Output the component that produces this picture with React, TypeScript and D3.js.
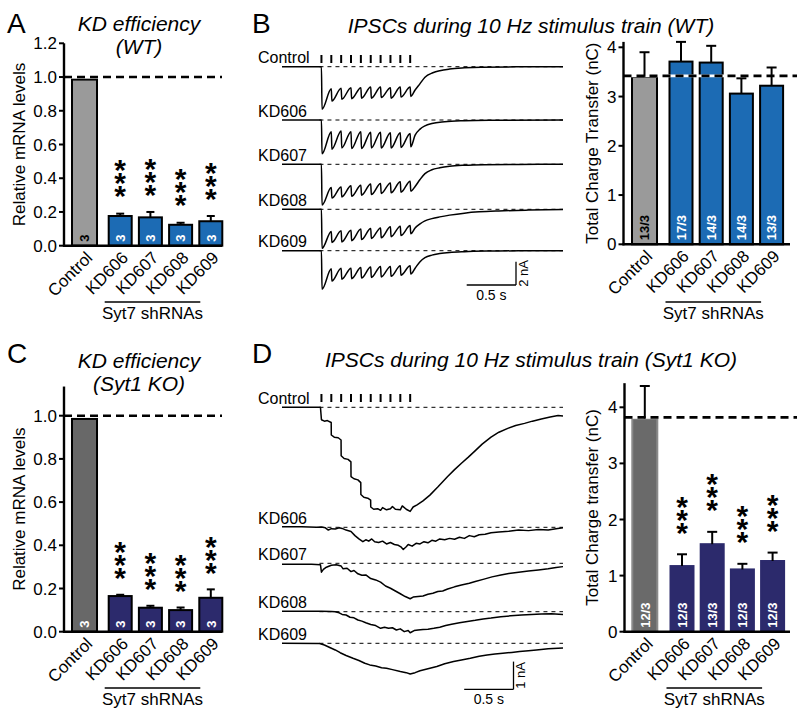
import React from 'react';
import * as d3 from 'd3';

// ---------- DATA ----------
const categories = ['Control', 'KD606', 'KD607', 'KD608', 'KD609'];
const groupLabel = 'Syt7 shRNAs';

const mrnaTicksWT = [0, 0.2, 0.4, 0.6, 0.8, 1.0, 1.2];
const mrnaTicksKO = [0, 0.2, 0.4, 0.6, 0.8, 1.0];
const chargeTicks = [0, 1, 2, 3, 4];

// A: KD efficiency (WT)
const mrnaWT = [0.985, 0.176, 0.168, 0.124, 0.145];
const mrnaWTErr = [0, 0.014, 0.032, 0.012, 0.031];
const mrnaWTn = ['3', '3', '3', '3', '3'];
const mrnaWTSig = ['', '***', '***', '***', '***'];

// B: total charge (WT)
const chargeWT = [3.4, 3.71, 3.69, 3.06, 3.22];
const chargeWTErr = [0.5, 0.4, 0.34, 0.31, 0.37];
const chargeWTn = ['13/3', '17/3', '14/3', '14/3', '13/3'];
const chargeWTSig = ['', '', '', '', ''];

// C: KD efficiency (Syt1 KO)
const mrnaKO = [0.985, 0.165, 0.111, 0.1, 0.157];
const mrnaKOErr = [0, 0.006, 0.009, 0.012, 0.039];
const mrnaKOn = ['3', '3', '3', '3', '3'];
const mrnaKOSig = ['', '***', '***', '***', '***'];

// D: total charge (Syt1 KO)
const chargeKO = [3.8, 1.17, 1.56, 1.11, 1.26];
const chargeKOErr = [0.58, 0.21, 0.22, 0.1, 0.15];
const chargeKOn = ['12/3', '12/3', '13/3', '12/3', '12/3'];
const chargeKOSig = ['', '***', '***', '***', '***'];

// reference (control mean) lines
const refMrna = 1.0;
const refChargeWT = 3.42;
const refChargeKO = 3.82;

// stimulus times (s)
const stimTimes = [0, 0.1, 0.2, 0.3, 0.4, 0.5, 0.6, 0.7, 0.8, 0.9];

// B traces (nA): peak after each stimulus, level just before next stimulus, tail after train
const wtControlPeaks = [-3.65, -2.95, -2.8, -2.75, -2.7, -2.7, -2.65, -2.7, -2.6, -2.55];
const wtControlRecov = [-1.9, -1.85, -1.8, -1.8, -1.75, -1.75, -1.8, -1.75, -1.75];
const wtControlTail = [[0.95, -2.0], [1.0, -1.45], [1.05, -0.9], [1.13, -0.52], [1.2, -0.34], [1.3, -0.2], [1.45, -0.1], [1.62, -0.04], [2.0, -0.01], [2.45, 0]];

const wtKD606Peaks = [-2.9, -2.5, -2.4, -2.45, -2.45, -2.4, -2.4, -2.4, -2.35, -2.3];
const wtKD606Recov = [-1.0, -0.95, -1.0, -1.0, -1.05, -1.05, -1.1, -1.1, -1.15];
const wtKD606Tail = [[0.95, -1.3], [1.0, -0.78], [1.05, -0.5], [1.12, -0.3], [1.25, -0.15], [1.45, -0.06], [1.7, -0.02], [2.45, 0]];

const wtKD607Peaks = [-3.5, -2.9, -2.8, -2.75, -2.65, -2.6, -2.5, -2.45, -2.4, -2.3];
const wtKD607Recov = [-2.0, -1.95, -1.85, -1.8, -1.7, -1.65, -1.6, -1.5, -1.45];
const wtKD607Tail = [[0.95, -1.9], [1.0, -1.3], [1.05, -0.8], [1.12, -0.47], [1.2, -0.3], [1.3, -0.17], [1.45, -0.08], [1.65, -0.03], [2.0, -0.01], [2.45, 0]];

const wtKD608Peaks = [-3.35, -2.85, -2.8, -2.7, -2.6, -2.5, -2.45, -2.35, -2.25, -2.1];
const wtKD608Recov = [-1.9, -1.85, -1.8, -1.7, -1.65, -1.6, -1.5, -1.45, -1.4];
const wtKD608Tail = [[0.95, -1.6], [1.0, -1.25], [1.05, -1.0], [1.12, -0.8], [1.2, -0.65], [1.3, -0.5], [1.45, -0.33], [1.6, -0.22], [1.8, -0.14], [2.1, -0.07], [2.45, -0.02]];

const wtKD609Peaks = [-3.3, -2.6, -2.45, -2.4, -2.35, -2.3, -2.25, -2.2, -2.1, -2.0];
const wtKD609Recov = [-1.55, -1.5, -1.5, -1.45, -1.4, -1.35, -1.35, -1.3, -1.3];
const wtKD609Tail = [[0.95, -1.5], [1.0, -0.95], [1.05, -0.6], [1.12, -0.38], [1.2, -0.25], [1.3, -0.15], [1.45, -0.08], [1.7, -0.03], [2.0, -0.01], [2.45, 0]];

// D traces (nA), [time s, current nA]
const koControl = [[-0.4, 0], [-0.01, 0], [0.0, -0.45], [0.03, -0.5], [0.06, -0.48], [0.099, -0.55], [0.1, -1.0], [0.13, -1.08], [0.17, -1.1], [0.199, -1.18], [0.2, -1.75], [0.23, -1.85], [0.27, -1.88], [0.299, -1.97], [0.3, -2.5], [0.33, -2.58], [0.37, -2.62], [0.399, -2.72], [0.4, -3.15], [0.43, -3.25], [0.47, -3.28], [0.499, -3.35], [0.5, -3.6], [0.53, -3.68], [0.57, -3.66], [0.6, -3.72], [0.62, -3.62], [0.66, -3.7], [0.7, -3.66], [0.72, -3.58], [0.75, -3.68], [0.8, -3.7], [0.82, -3.56], [0.86, -3.68], [0.9, -3.76], [0.93, -3.6], [0.97, -3.52], [1.03, -3.38], [1.1, -3.17], [1.18, -2.88], [1.28, -2.5], [1.35, -2.25], [1.42, -2.02], [1.49, -1.8], [1.55, -1.6], [1.63, -1.33], [1.72, -1.08], [1.8, -0.9], [1.89, -0.76], [1.97, -0.66], [2.06, -0.58], [2.14, -0.5], [2.23, -0.42], [2.32, -0.35], [2.4, -0.3], [2.45, -0.31]];

const koKD606 = [[-0.4, 0.02], [-0.2, 0.02], [-0.05, 0.0], [0.0, 0.01], [0.04, -0.02], [0.07, -0.1], [0.1, -0.05], [0.14, -0.06], [0.18, -0.02], [0.21, -0.04], [0.25, -0.1], [0.3, -0.15], [0.34, -0.3], [0.38, -0.42], [0.42, -0.52], [0.45, -0.45], [0.48, -0.5], [0.51, -0.42], [0.54, -0.52], [0.58, -0.55], [0.62, -0.5], [0.66, -0.6], [0.7, -0.55], [0.74, -0.62], [0.78, -0.65], [0.81, -0.72], [0.83, -0.8], [0.86, -0.7], [0.88, -0.62], [0.92, -0.68], [0.96, -0.58], [1.0, -0.6], [1.04, -0.52], [1.08, -0.56], [1.12, -0.47], [1.16, -0.5], [1.2, -0.42], [1.25, -0.45], [1.3, -0.4], [1.35, -0.43], [1.4, -0.36], [1.45, -0.4], [1.5, -0.3], [1.55, -0.34], [1.6, -0.27], [1.66, -0.25], [1.72, -0.2], [1.8, -0.17], [1.9, -0.14], [2.0, -0.1], [2.1, -0.12], [2.2, -0.08], [2.3, -0.1], [2.38, -0.05], [2.45, -0.02]];

const koKD607 = [[-0.4, -0.03], [-0.1, -0.03], [-0.01, -0.05], [0.0, -0.32], [0.02, -0.22], [0.05, -0.14], [0.1, -0.07], [0.15, -0.05], [0.2, -0.1], [0.22, -0.2], [0.26, -0.18], [0.3, -0.3], [0.33, -0.26], [0.37, -0.38], [0.41, -0.43], [0.45, -0.42], [0.5, -0.55], [0.55, -0.6], [0.6, -0.68], [0.65, -0.82], [0.7, -0.9], [0.75, -1.0], [0.8, -1.1], [0.85, -1.2], [0.9, -1.28], [0.93, -1.22], [0.98, -1.2], [1.03, -1.18], [1.08, -1.12], [1.13, -1.08], [1.18, -1.02], [1.23, -1.0], [1.28, -0.93], [1.35, -0.85], [1.42, -0.78], [1.5, -0.72], [1.56, -0.66], [1.64, -0.58], [1.73, -0.49], [1.82, -0.42], [1.9, -0.37], [2.0, -0.32], [2.1, -0.28], [2.2, -0.24], [2.3, -0.2], [2.38, -0.15], [2.45, -0.12]];

const koKD608 = [[-0.4, 0.02], [0.0, 0.02], [0.1, 0.01], [0.14, 0.0], [0.18, -0.04], [0.21, -0.1], [0.25, -0.12], [0.29, -0.2], [0.33, -0.22], [0.37, -0.3], [0.41, -0.34], [0.45, -0.4], [0.5, -0.46], [0.55, -0.5], [0.6, -0.6], [0.64, -0.56], [0.68, -0.6], [0.72, -0.58], [0.76, -0.66], [0.8, -0.62], [0.84, -0.72], [0.88, -0.68], [0.9, -0.76], [0.94, -0.68], [0.98, -0.66], [1.03, -0.64], [1.08, -0.63], [1.14, -0.6], [1.2, -0.56], [1.26, -0.5], [1.32, -0.45], [1.4, -0.4], [1.48, -0.35], [1.56, -0.31], [1.64, -0.26], [1.72, -0.23], [1.82, -0.18], [1.92, -0.15], [2.03, -0.12], [2.13, -0.1], [2.23, -0.08], [2.33, -0.07], [2.45, -0.1]];

const koKD609 = [[-0.4, 0], [-0.02, -0.01], [0.03, -0.06], [0.09, -0.16], [0.14, -0.24], [0.19, -0.34], [0.25, -0.44], [0.32, -0.54], [0.38, -0.62], [0.44, -0.72], [0.49, -0.78], [0.55, -0.82], [0.61, -0.88], [0.66, -0.9], [0.72, -0.95], [0.8, -1.02], [0.86, -1.06], [0.9, -1.11], [0.95, -1.06], [1.0, -0.99], [1.08, -0.92], [1.17, -0.84], [1.25, -0.74], [1.34, -0.66], [1.42, -0.6], [1.51, -0.54], [1.6, -0.47], [1.68, -0.42], [1.76, -0.39], [1.84, -0.36], [1.93, -0.33], [2.01, -0.3], [2.1, -0.27], [2.18, -0.24], [2.3, -0.2], [2.45, -0.17]];

// ---------- STYLE ----------
const FONT = '"Liberation Sans", Arial, Helvetica, sans-serif';
const BLUE = '#1c6bb4';
const NAVY = '#2c2a6c';
const STAR_FS = 30;
const STAR_STEP = 13;

type BarCfg = {
  values: number[]; errs: number[]; ns: string[]; sig: string[];
  ticks: number[]; fmt: (v: number) => string;
  y: d3.ScaleLinear<number, number>;
  axisX: number; axisTopVal: number; bandStart: number; ctrlShift: number;
  fills: string[]; strokes: string[]; nColors: string[];
  capW: number; starGap: number; ref: number; refEnd: number; xAxisEnd: number;
  yLabel: string; yLabelX: number; underlineY: number; groupTextY: number;
};

function BarChart({ c }: { c: BarCfg }) {
  const x = d3.scaleBand<string>().domain(categories)
    .range([c.bandStart, c.bandStart + 143.8]).paddingInner(0.238).paddingOuter(0);
  const bw = x.bandwidth();
  const cx = (cat: string, i: number) => (x(cat) as number) + bw / 2 + (i === 0 ? c.ctrlShift : 0);
  const y0 = c.y(0);
  const yTop = c.y(c.axisTopVal);
  const yMid = (y0 + yTop) / 2;
  const kdStart = cx(categories[1], 1) - bw / 2 - 4;
  const kdEnd = cx(categories[4], 4) + bw / 2 - 22;
  const ls = STAR_STEP - 0.389 * STAR_FS;
  return (
    <g>
      {/* bars */}
      {categories.map((cat, i) => {
        const w = i === 0 ? bw + 2 : bw;
        return (
          <rect key={cat} x={cx(cat, i) - w / 2} y={c.y(c.values[i])} width={w}
            height={y0 - c.y(c.values[i])} fill={c.fills[i]} stroke={c.strokes[i]} strokeWidth={2} />
        );
      })}
      {/* reference dashed line */}
      <line x1={c.axisX} x2={c.refEnd} y1={c.y(c.ref)} y2={c.y(c.ref)} stroke="#fff" strokeWidth={2.6} />
      <line x1={c.axisX} x2={c.refEnd} y1={c.y(c.ref)} y2={c.y(c.ref)} stroke="#000" strokeWidth={2.6} strokeDasharray="8,5" />
      {/* error bars */}
      {categories.map((cat, i) => c.errs[i] > 0 ? (
        <g key={cat + 'e'}>
          <line x1={cx(cat, i)} x2={cx(cat, i)} y1={c.y(c.values[i])} y2={c.y(c.values[i] + c.errs[i])} stroke="#000" strokeWidth={2} />
          <line x1={cx(cat, i) - c.capW / 2} x2={cx(cat, i) + c.capW / 2} y1={c.y(c.values[i] + c.errs[i])} y2={c.y(c.values[i] + c.errs[i])} stroke="#000" strokeWidth={2} />
        </g>
      ) : null)}
      {/* n labels */}
      {categories.map((cat, i) => (
        <text key={cat + 'n'} transform={`translate(${cx(cat, i) + 4.8},${y0 - 4}) rotate(-90)`}
          fontSize={13} fontWeight="bold" fill={c.nColors[i]} fontFamily={FONT}>{c.ns[i]}</text>
      ))}
      {/* significance stars: one text, glyphs stacked vertically and kept upright */}
      {categories.map((cat, i) => {
        if (!c.sig[i]) return null;
        const errTop = c.y(c.values[i] + c.errs[i]);
        const y0s = errTop - c.starGap - 2 * STAR_STEP + 0.32 * STAR_FS;
        const x0s = cx(cat, i) - 0.195 * STAR_FS;
        return (
          <text key={cat + 's'} transform={`translate(${x0s},${y0s}) rotate(90)`} rotate="-90"
            fontSize={STAR_FS} fontWeight="bold" letterSpacing={ls} fontFamily={FONT}>{c.sig[i]}</text>
        );
      })}
      {/* axes */}
      <line x1={c.axisX} x2={c.axisX} y1={yTop} y2={y0 + 1} stroke="#000" strokeWidth={2.4} />
      <line x1={c.axisX - 1} x2={c.xAxisEnd} y1={y0} y2={y0} stroke="#000" strokeWidth={2.4} />
      {c.ticks.map(t => (
        <g key={'t' + t}>
          <line x1={c.axisX - 5} x2={c.axisX} y1={c.y(t)} y2={c.y(t)} stroke="#000" strokeWidth={2} />
          <text x={c.axisX - 7} y={c.y(t) + 6} textAnchor="end" fontSize={17} fontFamily={FONT}>{c.fmt(t)}</text>
        </g>
      ))}
      <text transform={`translate(${c.yLabelX},${yMid}) rotate(-90)`} textAnchor="middle" fontSize={17} fontFamily={FONT}>{c.yLabel}</text>
      {/* category labels */}
      {categories.map((cat, i) => (
        <text key={cat + 'x'} transform={`translate(${cx(cat, i) + 9},${y0 + 13}) rotate(-45)`} textAnchor="end"
          fontSize={17} fontFamily={FONT}>{cat}</text>
      ))}
      <line x1={kdStart} x2={kdEnd} y1={c.underlineY} y2={c.underlineY} stroke="#000" strokeWidth={1.5} />
      <text x={(kdStart + kdEnd) / 2} y={c.groupTextY} textAnchor="middle" fontSize={17} fontFamily={FONT}>{groupLabel}</text>
    </g>
  );
}

const tScale = d3.scaleLinear().domain([-0.4, 2.45]).range([282, 563]);

function trainPoints(peaks: number[], recov: number[], tail: number[][]): [number, number][] {
  const pts: [number, number][] = [[-0.4, 0], [stimTimes[0], 0]];
  stimTimes.forEach((t, i) => {
    pts.push([t + 0.006, peaks[i]]);
    if (i < recov.length) pts.push([stimTimes[i + 1], recov[i]]);
  });
  tail.forEach(p => pts.push([p[0], p[1]]));
  return pts;
}

type TraceCfg = { name: string; base: number; pts: [number, number][] };

function TracePanel({ traces, pxPerNA, curve, tickY, scaleRight, scaleY, ampLabel, ampNA }: {
  traces: TraceCfg[]; pxPerNA: number; curve: d3.CurveFactory; tickY: number;
  scaleRight: number; scaleY: number; ampLabel: string; ampNA: number;
}) {
  const barLen = tScale(0.5) - tScale(0);
  return (
    <g>
      {stimTimes.map(t => (
        <line key={'st' + t} x1={tScale(t)} x2={tScale(t)} y1={tickY} y2={tickY + 8} stroke="#000" strokeWidth={2} />
      ))}
      {traces.map(tr => {
        const y = d3.scaleLinear().domain([0, -1]).range([tr.base, tr.base + pxPerNA]);
        const line = d3.line<[number, number]>().x(d => tScale(d[0])).y(d => y(d[1])).curve(curve);
        return (
          <g key={tr.name}>
            <line x1={tScale(-0.02)} x2={tScale(2.45)} y1={tr.base} y2={tr.base} stroke="#000" strokeWidth={1} strokeDasharray="4,4" />
            <path d={line(tr.pts) || ''} fill="none" stroke="#000" strokeWidth={1.5} strokeLinejoin="round" />
            <text x={258} y={tr.base - 3.5} fontSize={16} fontFamily={FONT}>{tr.name}</text>
          </g>
        );
      })}
      <line x1={scaleRight - barLen} x2={scaleRight} y1={scaleY} y2={scaleY} stroke="#000" strokeWidth={1.3} />
      <line x1={scaleRight} x2={scaleRight} y1={scaleY} y2={scaleY - ampNA * pxPerNA} stroke="#000" strokeWidth={1.3} />
      <text x={scaleRight - barLen / 2} y={scaleY + 15} textAnchor="middle" fontSize={14} fontFamily={FONT}>0.5 s</text>
      <text transform={`translate(${scaleRight + 11.5},${scaleY - ampNA * pxPerNA / 2}) rotate(-90)`} textAnchor="middle" fontSize={13} fontFamily={FONT}>{ampLabel}</text>
    </g>
  );
}

export default function App() {
  const fmt1 = (v: number) => v.toFixed(1);
  const fmt0 = (v: number) => String(v);
  const cfgA: BarCfg = {
    values: mrnaWT, errs: mrnaWTErr, ns: mrnaWTn, sig: mrnaWTSig, ticks: mrnaTicksWT, fmt: fmt1,
    y: d3.scaleLinear().domain([0, 1.2]).range([245.7, 43.3]), axisX: 64, axisTopVal: 1.2,
    bandStart: 78.5, ctrlShift: -5.5, fills: ['#9a9a9a', BLUE, BLUE, BLUE, BLUE], strokes: ['#000', '#000', '#000', '#000', '#000'],
    nColors: ['#000', '#fff', '#fff', '#fff', '#fff'], capW: 8, starGap: 17, ref: refMrna, refEnd: 222, xAxisEnd: 222,
    yLabel: 'Relative mRNA levels', yLabelX: 25, underlineY: 302, groupTextY: 319,
  };
  const cfgB: BarCfg = {
    values: chargeWT, errs: chargeWTErr, ns: chargeWTn, sig: chargeWTSig, ticks: chargeTicks, fmt: fmt0,
    y: d3.scaleLinear().domain([0, 4]).range([244.3, 47.3]), axisX: 623.5, axisTopVal: 4.11,
    bandStart: 639.3, ctrlShift: -6.3, fills: ['#9a9a9a', BLUE, BLUE, BLUE, BLUE], strokes: ['#000', '#000', '#000', '#000', '#000'],
    nColors: ['#000', '#fff', '#fff', '#fff', '#fff'], capW: 10, starGap: 17, ref: refChargeWT, refEnd: 797, xAxisEnd: 790,
    yLabel: 'Total Charge Transfer (nC)', yLabelX: 598, underlineY: 302, groupTextY: 319,
  };
  const cfgC: BarCfg = {
    values: mrnaKO, errs: mrnaKOErr, ns: mrnaKOn, sig: mrnaKOSig, ticks: mrnaTicksKO, fmt: fmt1,
    y: d3.scaleLinear().domain([0, 1]).range([631.7, 415.7]), axisX: 64, axisTopVal: 1.135,
    bandStart: 78.5, ctrlShift: -5.5, fills: ['#686868', NAVY, NAVY, NAVY, NAVY], strokes: ['#000', '#000', '#000', '#000', '#000'],
    nColors: ['#fff', '#fff', '#fff', '#fff', '#fff'], capW: 8, starGap: 16, ref: refMrna, refEnd: 222, xAxisEnd: 222,
    yLabel: 'Relative mRNA levels', yLabelX: 25, underlineY: 688, groupTextY: 705,
  };
  const cfgD: BarCfg = {
    values: chargeKO, errs: chargeKOErr, ns: chargeKOn, sig: chargeKOSig, ticks: chargeTicks, fmt: fmt0,
    y: d3.scaleLinear().domain([0, 4]).range([631.7, 407.3]), axisX: 624.5, axisTopVal: 4.43,
    bandStart: 640.3, ctrlShift: -7, fills: ['#6a6a6a', NAVY, NAVY, NAVY, NAVY], strokes: ['#8a8a8a', NAVY, NAVY, NAVY, NAVY],
    nColors: ['#fff', '#fff', '#fff', '#fff', '#fff'], capW: 10, starGap: 21, ref: refChargeKO, refEnd: 797, xAxisEnd: 790,
    yLabel: 'Total Charge transfer (nC)', yLabelX: 598, underlineY: 688, groupTextY: 705,
  };

  const wtTraces: TraceCfg[] = [
    { name: 'Control', base: 66.7, pts: trainPoints(wtControlPeaks, wtControlRecov, wtControlTail) },
    { name: 'KD606', base: 120, pts: trainPoints(wtKD606Peaks, wtKD606Recov, wtKD606Tail) },
    { name: 'KD607', base: 164.3, pts: trainPoints(wtKD607Peaks, wtKD607Recov, wtKD607Tail) },
    { name: 'KD608', base: 209.3, pts: trainPoints(wtKD608Peaks, wtKD608Recov, wtKD608Tail) },
    { name: 'KD609', base: 250.7, pts: trainPoints(wtKD609Peaks, wtKD609Recov, wtKD609Tail) },
  ];
  const koTraces: TraceCfg[] = [
    { name: 'Control', base: 407.3, pts: koControl as [number, number][] },
    { name: 'KD606', base: 527.3, pts: koKD606 as [number, number][] },
    { name: 'KD607', base: 563.3, pts: koKD607 as [number, number][] },
    { name: 'KD608', base: 611.7, pts: koKD608 as [number, number][] },
    { name: 'KD609', base: 643.3, pts: koKD609 as [number, number][] },
  ];

  return (
    <svg width={800} height={721} style={{ position: 'absolute', left: 0, top: 0, display: 'block', background: '#fff' }}
      fontFamily={FONT}>
      <rect width={800} height={721} fill="#fff" />
      {/* panel letters */}
      <text x={7} y={33} fontSize={28} fontFamily={FONT}>A</text>
      <text x={252} y={33} fontSize={28} fontFamily={FONT}>B</text>
      <text x={7} y={363} fontSize={28} fontFamily={FONT}>C</text>
      <text x={252} y={363} fontSize={28} fontFamily={FONT}>D</text>
      {/* titles */}
      <text x={139} y={31} textAnchor="middle" fontSize={21} fontStyle="italic" fontFamily={FONT}>KD efficiency</text>
      <text x={139} y={54} textAnchor="middle" fontSize={21} fontStyle="italic" fontFamily={FONT}>(WT)</text>
      <text x={139} y={368} textAnchor="middle" fontSize={21} fontStyle="italic" fontFamily={FONT}>KD efficiency</text>
      <text x={139} y={391} textAnchor="middle" fontSize={21} fontStyle="italic" fontFamily={FONT}>(Syt1 KO)</text>
      <text x={531} y={33} textAnchor="middle" fontSize={21} fontStyle="italic" fontFamily={FONT}>IPSCs during 10 Hz stimulus train (WT)</text>
      <text x={531} y={367} textAnchor="middle" fontSize={21} fontStyle="italic" fontFamily={FONT}>IPSCs during 10 Hz stimulus train (Syt1 KO)</text>

      <BarChart c={cfgA} />
      <BarChart c={cfgB} />
      <BarChart c={cfgC} />
      <BarChart c={cfgD} />

      <TracePanel traces={wtTraces} pxPerNA={11.65} curve={d3.curveMonotoneX} tickY={55}
        scaleRight={516} scaleY={285} ampLabel="2 nA" ampNA={2} />
      <TracePanel traces={koTraces} pxPerNA={27.7} curve={d3.curveLinear} tickY={394}
        scaleRight={513.5} scaleY={689.3} ampLabel="1 nA" ampNA={1} />
    </svg>
  );
}
